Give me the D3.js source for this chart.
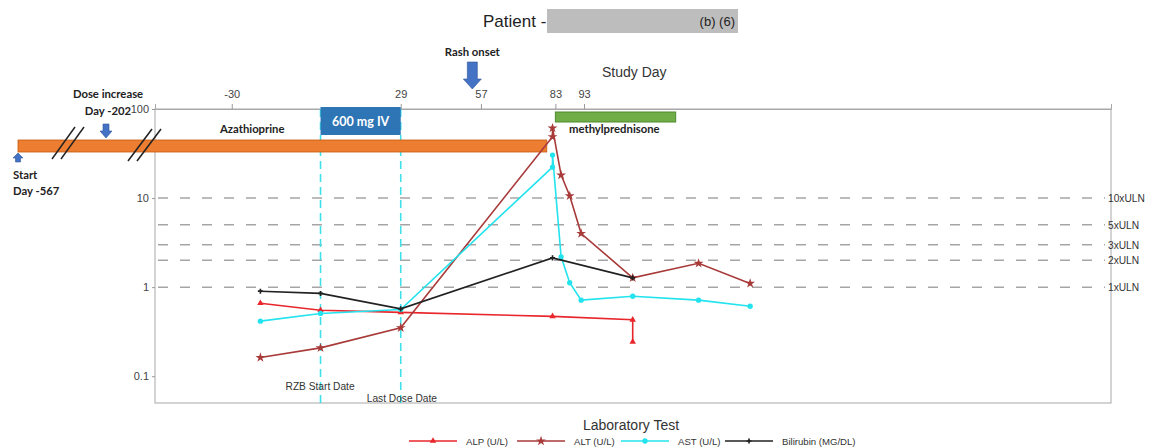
<!DOCTYPE html>
<html><head><meta charset="utf-8">
<script src="https://cdn.jsdelivr.net/npm/d3@7"></script>
<style>
body{margin:0;background:#fff;}
svg{display:block;}
.sans{font-family:"Liberation Sans",Arial,sans-serif;}
.narrow{font-family:"Liberation Sans Narrow","Liberation Sans",Arial,sans-serif;}
.bold{font-family:Lato,"Open Sans",sans-serif;font-weight:700;}
</style></head>
<body>
<svg id="chart" width="1158" height="448"></svg>
<script>
// ---- data ----
const seriesNames = ["ALP (U/L)", "ALT (U/L)", "AST (U/L)", "Bilirubin (MG/DL)"];
const alpDays = [-20, 1, 29, 82, 110, 110];
const alpVals = [0.66, 0.55, 0.52, 0.47, 0.43, 0.243];
const altDays = [-20, 1, 29, 82, 82, 85, 88, 92, 110, 133, 151];
const altVals = [0.162, 0.208, 0.35, 48.8, 61, 18.1, 10.6, 4.0, 1.27, 1.85, 1.10];
const astDays = [-20, 1, 29, 82, 82, 85, 88, 92, 110, 133, 151];
const astVals = [0.415, 0.506, 0.56, 22.3, 30.4, 2.19, 1.12, 0.714, 0.79, 0.714, 0.61];
const bilDays = [-20, 1, 29, 82, 110];
const bilVals = [0.90, 0.85, 0.57, 2.13, 1.27];
const xTicks = [-30, 29, 57, 83, 93];
const yTicks = [100, 10, 1, 0.1];
const ulnVals = [10, 5, 3, 2, 1];
const ulnLabels = ["10xULN", "5xULN", "3xULN", "2xULN", "1xULN"];
const refDays = [1, 29];
const refLabels = ["RZB Start Date", "Last Dose Date"];
const ivDays = [1, 29];
const aza = {end: 80};
const methylDays = [83, 125];
const rashDay = 54;

// ---- layout ----
const svg = d3.select("#chart");
const L = 155, R = 1111, T = 109, B = 403;
const x = d3.scaleLinear().domain([-56.8, 277]).range([L, R]);
const y = d3.scaleLog().domain([0.05, 100]).range([B, T]);
const colors = ["#e8262b", "#a83a3a", "#22e3ee", "#222222"];
const symbols = [d3.symbolTriangle, d3.symbolStar, d3.symbolCircle, d3.symbolCross];
const symSizes = [18, 30, 22, 14];
const BF = 11.3;

// title
svg.append("text").attr("class","sans").attr("x",483).attr("y",27)
  .attr("font-size",17).attr("fill","#222").text("Patient -");
svg.append("rect").attr("x",547).attr("y",9).attr("width",191).attr("height",24).attr("fill","#bdbdbd");
svg.append("text").attr("class","sans").attr("x",735).attr("y",26).attr("text-anchor","end")
  .attr("font-size",13).attr("fill","#222").text("(b) (6)");

// frame
svg.append("rect").attr("x",L).attr("y",T).attr("width",R-L).attr("height",B-T)
  .attr("fill","none").attr("stroke","#a8a8a8").attr("stroke-width",1);

// top axis
const topAxis = d3.axisTop(x).tickValues(xTicks).tickSize(5).tickFormat(d => String(d));
const gTop = svg.append("g").attr("transform",`translate(0,${T})`).call(topAxis);
gTop.select(".domain").attr("stroke","#a8a8a8");
gTop.selectAll(".tick line").attr("stroke","#999");
gTop.selectAll(".tick text").attr("class","sans").attr("font-size",11).attr("fill","#444").attr("dy","-0.3em");
svg.append("text").attr("class","sans").attr("x",602).attr("y",77).attr("font-size",14)
  .attr("fill","#333").text("Study Day");

// left axis
const leftAxis = d3.axisLeft(y).tickValues(yTicks).tickSize(3).tickFormat(d => String(d));
const gLeft = svg.append("g").attr("transform",`translate(${L},0)`).call(leftAxis);
gLeft.select(".domain").remove();
gLeft.selectAll(".tick line").attr("stroke","#999");
gLeft.selectAll(".tick text").attr("class","sans").attr("font-size",11).attr("fill","#444");

// ULN reference lines
ulnVals.forEach((v,i) => {
  svg.append("line").attr("x1",L+3).attr("x2",R-6).attr("y1",y(v)).attr("y2",y(v))
    .attr("stroke","#a5a5a5").attr("stroke-width",1.5).attr("stroke-dasharray","10,12");
  svg.append("text").attr("class","narrow").attr("x",R-3).attr("y",y(v)+4).attr("font-size",10.2)
    .attr("fill","#333").text(ulnLabels[i]);
});

// RZB dates vertical lines
refDays.forEach((d,i) => {
  svg.append("line").attr("x1",x(d)).attr("x2",x(d)).attr("y1",T).attr("y2",B)
    .attr("stroke","#3fe0ea").attr("stroke-width",1.6).attr("stroke-dasharray","8,5");
});
svg.append("text").attr("class","narrow").attr("x",x(refDays[0])-35).attr("y",390).attr("font-size",10.2)
  .attr("fill","#333").text(refLabels[0]);
svg.append("text").attr("class","narrow").attr("x",x(refDays[1])-34).attr("y",402).attr("font-size",10.2)
  .attr("fill","#333").text(refLabels[1]);

// azathioprine bar (broken axis on left)
const azaLeft = 18;
svg.append("rect").attr("x",azaLeft).attr("y",140).attr("width",x(aza.end)-azaLeft).attr("height",12)
  .attr("fill","#ed7d31").attr("stroke","#c55a11").attr("stroke-width",0.8);
svg.append("text").attr("class","bold").attr("x",220).attr("y",133).attr("font-size",BF)
  .attr("fill","#222").text("Azathioprine");
// break marks
[[52,159,75,127],[61,159,84,127],[128,161,152,129],[137,161,161,129]].forEach(s => {
  svg.append("line").attr("x1",s[0]).attr("y1",s[1]).attr("x2",s[2]).attr("y2",s[3])
    .attr("stroke","#222").attr("stroke-width",1.5);
});

// 600 mg IV box
svg.append("rect").attr("x",x(ivDays[0])).attr("y",T-2).attr("width",x(ivDays[1])-x(ivDays[0])).attr("height",28)
  .attr("fill","#2e75b6");
svg.append("text").attr("class","bold").attr("x",(x(ivDays[0])+x(ivDays[1]))/2).attr("y",126)
  .attr("text-anchor","middle").attr("font-size",12.5).attr("fill","#fff").text("600 mg IV");

// methylprednisone bar
svg.append("rect").attr("x",x(methylDays[0])).attr("y",112).attr("width",x(methylDays[1])-x(methylDays[0])).attr("height",10)
  .attr("fill","#70ad47").attr("stroke","#4e8a2e").attr("stroke-width",1);
svg.append("text").attr("class","bold").attr("x",569).attr("y",133).attr("font-size",BF)
  .attr("fill","#222").text("methylprednisone");

// arrows
function downArrow(cx, y0, y1, shaftW, headW, headH){
  svg.append("path").attr("d",
    `M${cx-shaftW/2},${y0} L${cx+shaftW/2},${y0} L${cx+shaftW/2},${y1-headH} L${cx+headW/2},${y1-headH} L${cx},${y1} L${cx-headW/2},${y1-headH} L${cx-shaftW/2},${y1-headH} Z`)
    .attr("fill","#4472c4").attr("stroke","#2f5597").attr("stroke-width",0.6);
}
function upArrow(cx, y0, y1, shaftW, headW, headH){
  svg.append("path").attr("d",
    `M${cx},${y0} L${cx+headW/2},${y0+headH} L${cx+shaftW/2},${y0+headH} L${cx+shaftW/2},${y1} L${cx-shaftW/2},${y1} L${cx-shaftW/2},${y0+headH} L${cx-headW/2},${y0+headH} Z`)
    .attr("fill","#4472c4").attr("stroke","#2f5597").attr("stroke-width",0.6);
}
downArrow(x(rashDay), 62, 89, 10, 18, 10);
svg.append("text").attr("class","bold").attr("x",x(rashDay)).attr("y",56).attr("text-anchor","middle")
  .attr("font-size",BF).attr("fill","#222").text("Rash onset");
downArrow(106, 124, 138, 6, 12, 7);
svg.append("text").attr("class","bold").attr("x",108).attr("y",98).attr("text-anchor","middle")
  .attr("font-size",BF).attr("fill","#222").text("Dose increase");
svg.append("text").attr("class","bold").attr("x",108).attr("y",115).attr("text-anchor","middle")
  .attr("font-size",BF).attr("fill","#222").text("Day -202");
upArrow(18, 153, 162, 5, 10, 5);
svg.append("text").attr("class","bold").attr("x",13).attr("y",179).attr("font-size",BF)
  .attr("fill","#222").text("Start");
svg.append("text").attr("class","bold").attr("x",13).attr("y",195).attr("font-size",BF)
  .attr("fill","#222").text("Day -567");

// series
const series = [
  {days: alpDays, vals: alpVals},
  {days: altDays, vals: altVals},
  {days: astDays, vals: astVals},
  {days: bilDays, vals: bilVals}
];
const line = d3.line().x(d => x(d[0])).y(d => y(d[1]));
series.forEach((s,i) => {
  const pts = s.days.map((d,j) => [d, s.vals[j]]);
  svg.append("path").datum(pts).attr("d",line).attr("fill","none")
    .attr("stroke",colors[i]).attr("stroke-width",1.6);
  svg.append("g").selectAll("path").data(pts).join("path")
    .attr("transform",d => `translate(${x(d[0])},${y(d[1])})`)
    .attr("d",d3.symbol().type(symbols[i]).size(symSizes[i]))
    .attr("fill",colors[i]);
});

// legend
svg.append("text").attr("class","sans").attr("x",631).attr("y",430).attr("text-anchor","middle")
  .attr("font-size",14).attr("fill","#333").text("Laboratory Test");
const legX = [409, 517, 621, 725];
seriesNames.forEach((n,i) => {
  const lx = legX[i], ly = 441;
  svg.append("line").attr("x1",lx).attr("x2",lx+48).attr("y1",ly).attr("y2",ly)
    .attr("stroke",colors[i]).attr("stroke-width",1.6);
  svg.append("path").attr("transform",`translate(${lx+24},${ly})`)
    .attr("d",d3.symbol().type(symbols[i]).size(symSizes[i])).attr("fill",colors[i]);
  svg.append("text").attr("class","narrow").attr("x",lx+57).attr("y",ly+4).attr("font-size",9.6)
    .attr("fill","#333").text(n);
});
</script>
</body></html>
